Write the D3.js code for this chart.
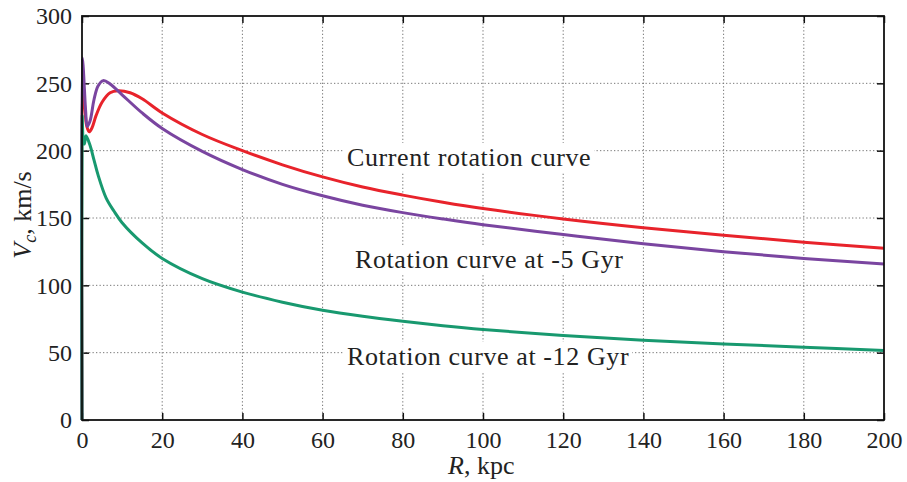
<!DOCTYPE html>
<html><head><meta charset="utf-8">
<script src="https://cdn.jsdelivr.net/npm/d3@7/dist/d3.min.js"></script>
<style>body{margin:0;background:#fff}svg{display:block}</style>
</head><body>
<svg id="c" width="907" height="482"></svg>
<script>
const xTicks = [0,20,40,60,80,100,120,140,160,180,200];
const yTicks = [0,50,100,150,200,250,300];

const currentR = [0,0.1,0.4,0.8,1.2,1.8,2.5,3.5,5,7,9,12,15,20,30,40,50,60,70,80,90,100,120,140,160,180,200];
const currentV = [0,255,243,228,218,214,217,226,236,243,244.5,243,238.5,228,212,200,189.5,180.5,173,167,161.7,157,149.3,142.8,137.2,132,127.5];

const gyr5R = [0,0.08,0.3,0.6,0.9,1.3,2,3,4,5.3,7,10,15,20,30,40,50,60,70,80,90,100,120,140,160,180,200];
const gyr5V = [0,269,262,246,230,218,222,238,248,252,249.5,241.5,228,216.5,199.5,186,175,166.5,159.5,154,149.3,145,137.7,130.8,125,120,115.8];

const gyr12R = [0,0.05,0.3,0.6,1,2,3,4,6,8,10,15,20,30,40,50,60,70,80,90,100,120,140,160,180,200];
const gyr12V = [0,226,208,205,211,204,193,182,165,155,146.5,131.5,120,105,95,87.5,81.5,77,73.3,70,67.2,62.8,59.3,56.5,54,51.7];

const labels = ["Current rotation curve","Rotation curve at -5 Gyr","Rotation curve at -12 Gyr"];

const FONT = '"Liberation Serif", "Times New Roman", Times, serif';
const svg = d3.select("#c");
const x = d3.scaleLinear().domain([0,200]).range([82,884]);
const y = d3.scaleLinear().domain([0,300]).range([420,16]);

// grid
const g = svg.append("g");
g.selectAll(".gx").data(xTicks.slice(1,-1)).enter().append("line")
  .attr("x1",d=>x(d)).attr("x2",d=>x(d)).attr("y1",y(0)).attr("y2",y(300))
  .attr("stroke","#777").attr("stroke-width",1).attr("stroke-dasharray","1.3,2.2");
g.selectAll(".gy").data(yTicks.slice(1,-1)).enter().append("line")
  .attr("y1",d=>y(d)).attr("y2",d=>y(d)).attr("x1",x(0)).attr("x2",x(200))
  .attr("stroke","#777").attr("stroke-width",1).attr("stroke-dasharray","1.3,2.2");

// text labels with white background
const textPos = [[347,166],[355,268],[347,365]];
labels.forEach((t,i)=>{
  const tx = svg.append("text").attr("x",textPos[i][0]).attr("y",textPos[i][1])
    .style("font-family",FONT).style("font-size","26px").style("letter-spacing","0.6px")
    .attr("fill","#222").text(t);
  const bb = tx.node().getBBox();
  svg.insert("rect","text").attr("x",bb.x-3).attr("y",bb.y).attr("width",bb.width+6).attr("height",bb.height).attr("fill","#fff");
});

// axes
const ax = d3.axisBottom(x).tickValues(xTicks).tickSize(-7).tickPadding(11).tickFormat(d3.format("d"));
const ay = d3.axisLeft(y).tickValues(yTicks).tickSize(-7).tickPadding(10).tickFormat(d3.format("d"));
const axT = d3.axisTop(x).tickValues(xTicks).tickSize(-7).tickFormat("");
const ayR = d3.axisRight(y).tickValues(yTicks).tickSize(-7).tickFormat("");
function style(sel){
  sel.select(".domain").remove();
  sel.selectAll(".tick line").attr("stroke","#111").attr("stroke-width",1.5);
  sel.selectAll(".tick text").style("font-family",FONT).style("font-size","24px").attr("fill","#222");
}
svg.append("g").attr("transform",`translate(0,${y(0)})`).call(ax).call(style);
svg.append("g").attr("transform",`translate(${x(0)},0)`).call(ay).call(style);
svg.append("g").attr("transform",`translate(0,${y(300)})`).call(axT).call(style);
svg.append("g").attr("transform",`translate(${x(200)},0)`).call(ayR).call(style);

// curves
const line = d3.line().x(d=>x(d[0])).y(d=>y(d[1])).curve(d3.curveCatmullRom.alpha(0.5));
const series = [
  [currentR,currentV,"#e8232b"],
  [gyr5R,gyr5V,"#7a45a0"],
  [gyr12R,gyr12V,"#18996f"]
];
series.forEach(([R,V,c])=>{
  svg.append("path").datum(R.map((r,i)=>[r,V[i]])).attr("d",line)
    .attr("fill","none").attr("stroke",c).attr("stroke-width",3).attr("stroke-linejoin","round");
});

// frame
svg.append("rect").attr("x",x(0)).attr("y",y(300)).attr("width",x(200)-x(0)).attr("height",y(0)-y(300))
  .attr("fill","none").attr("stroke","#111").attr("stroke-width",1.8);

// axis titles
const xt = svg.append("text").attr("x",448).attr("y",474)
  .style("font-family",FONT).style("font-size","26px").attr("fill","#222");
xt.append("tspan").style("font-style","italic").text("R");
xt.append("tspan").text(", kpc");
const yt = svg.append("text").attr("transform","translate(31,215) rotate(-90)").attr("text-anchor","middle")
  .style("font-family",FONT).style("font-size","26px").attr("fill","#222");
yt.append("tspan").style("font-style","italic").text("V");
yt.append("tspan").style("font-style","italic").style("font-size","18px").attr("dy",5).text("c");
yt.append("tspan").attr("dy",-5).text(", km/s");
</script>
</body></html>
